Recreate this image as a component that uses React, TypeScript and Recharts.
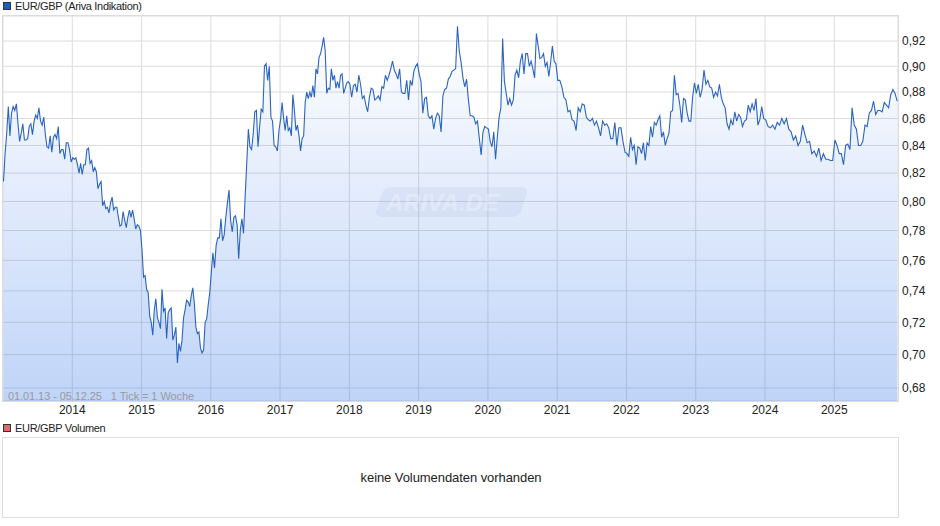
import React from 'react';
import { Area, CartesianGrid, ComposedChart, XAxis, YAxis } from 'recharts';

const FONT = '"Liberation Sans", Arial, sans-serif';

const years = [2013, 2014, 2015, 2016, 2017, 2018, 2019, 2020, 2021, 2022, 2023, 2024, 2025];
const yearTicks = [2014, 2015, 2016, 2017, 2018, 2019, 2020, 2021, 2022, 2023, 2024, 2025];
const priceTicks = [0.68, 0.7, 0.72, 0.74, 0.76, 0.78, 0.8, 0.82, 0.84, 0.86, 0.88, 0.9, 0.92];

// one list per calendar year
const v2013 = [.814, .834, .849, .869, .847, .864, .869, .866, .871, .856, .843, .849, .856, .844, .844, .845, .854, .856, .848, .858, .8625, .86, .868, .858, .855, .861, .848, .839, .838, .847, .835, .846, .848, .845, .854, .834, .837, .837, .83, .842, .842, .837, .828];
const v2014 = [.831, .83, .831, .826, .82, .827, .819, .826, .826, .837, .838, .827, .829, .821, .824, .821, .809, .812, .814, .797, .8, .795, .796, .792, .799, .803, .794, .796, .796, .789, .783, .784, .793, .787, .782, .789, .794, .789, .794, .788, .781, .784, .783, .78];
const v2015 = [.767, .749, .75, .741, .739, .724, .72, .712, .728, .735, .723, .72, .716, .741, .727, .729, .71, .726, .728, .729, .709, .712, .717, .695, .707, .702, .709, .723, .728, .734, .733, .73, .737, .742, .732, .717, .713, .714, .704, .701, .703, .72, .722, .731, .739];
const v2016 = [.752, .765, .755, .77, .775, .775, .788, .773, .777, .789, .799, .808, .787, .779, .789, .79, .784, .761, .78, .788, .778, .803, .827, .852, .839, .837, .848, .865, .866, .839, .854, .867, .865, .9, .902, .889, .9, .861, .858, .84, .839, .836, .851];
const v2017 = [.859, .872, .86, .851, .862, .851, .853, .847, .878, .866, .851, .855, .847, .836, .845, .847, .872, .88, .875, .88, .876, .885, .876, .898, .894, .907, .91, .916, .923, .912, .879, .883, .882, .898, .889, .893, .883, .888, .883, .893, .894, .879, .883, .887, .888];
const v2018 = [.886, .876, .885, .886, .88, .893, .886, .875, .877, .87, .865, .876, .883, .882, .874, .875, .877, .874, .884, .883, .893, .889, .893, .898, .904, .897, .894, .89, .898, .88, .879, .879, .889, .874, .889, .885, .896, .9, .902];
const v2019 = [.894, .888, .864, .875, .876, .862, .86, .862, .852, .86, .864, .862, .85, .877, .882, .883, .89, .892, .896, .897, .898, .932, .912, .903, .891, .884, .89, .874, .862, .862, .861, .856, .858, .845, .833, .85, .854, .853];
const v2020 = [.852, .843, .839, .85, .83, .846, .861, .868, .922, .888, .879, .87, .875, .87, .874, .893, .897, .891, .904, .91, .894, .91, .91, .9, .904, .898, .891, .926, .916, .906, .907, .91, .9, .903, .892, .903, .916, .904, .902];
const v2021 = [.889, .889, .884, .876, .874, .865, .866, .859, .858, .851, .868, .865, .871, .87, .861, .859, .858, .86, .855, .858, .853, .847, .858, .855, .856, .853, .845, .845, .857, .84, .853, .853, .843, .835];
const v2022 = [.834, .832, .846, .837, .84, .826, .839, .838, .834, .842, .829, .842, .84, .854, .846, .857, .855, .859, .862, .846, .85, .84, .845, .849, .865, .866, .893, .878, .879, .87, .857, .875, .874, .864, .858, .858, .876, .887];
const v2023 = [.879, .886, .876, .882, .897, .886, .889, .884, .883, .876, .88, .877, .886, .876, .871, .868, .856, .852, .859, .855, .865, .858, .863, .861, .854, .858, .859, .87, .865, .871, .866, .875, .855, .859, .869, .86];
const v2024 = [.859, .854, .853, .855, .852, .857, .855, .86, .856, .86, .852, .85, .844, .847, .84, .843, .855, .848, .842, .843, .834, .836, .832, .838, .829, .834, .83, .83, .829, .829];
const v2025 = [.844, .84, .834, .834, .826, .84, .841, .837, .868, .855, .852, .84, .84, .843, .855, .854, .864, .866, .873, .863, .866, .866, .865, .872, .87, .868, .878, .882, .879, .873];

const yearValues = [v2013, v2014, v2015, v2016, v2017, v2018, v2019, v2020, v2021, v2022, v2023, v2024, v2025];

const LAST_YEAR_SHARE = 0.93; // data stops at 05.12.25

const rows = years.flatMap((year, y) => {
  const list = yearValues[y];
  const share = year === 2025 ? LAST_YEAR_SHARE : 1;
  return list.map((v, i) => ({ t: year + ((i + 0.3) / list.length) * share, v }));
});

const plain: React.CSSProperties = { position: 'absolute', fontFamily: FONT, fontSize: 11, lineHeight: '14px', whiteSpace: 'pre' };

function Marker({ top, color }: { top: number; color: string }) {
  return <div style={{ position: 'absolute', left: 3, top, width: 6, height: 6, background: color, border: '1px solid #333' }} />;
}

export default function App() {
  return (
    <div style={{ position: 'fixed', left: 0, top: 0, width: 940, height: 526, background: '#fff', overflow: 'hidden' }}>
      <Marker top={2} color="#1c5dbd" />
      <div style={{ ...plain, left: 15, top: -1, color: '#222', letterSpacing: -0.32 }}>EUR/GBP (Ariva Indikation)</div>

      <div style={{ position: 'absolute', left: 0, top: 0 }}>
        <ComposedChart width={940} height={440} data={rows} margin={{ top: 16, right: 0, bottom: 0, left: 3 }}>
          <defs>
            <linearGradient id="areaFill" x1="0" y1="0" x2="0" y2="1">
              <stop offset="0%" stopColor="#2a6fe8" stopOpacity={0} />
              <stop offset="100%" stopColor="#2a6fe8" stopOpacity={0.3} />
            </linearGradient>
          </defs>
          <CartesianGrid stroke="#dcdcdc" strokeWidth={1} />
          <XAxis
            dataKey="t"
            type="number"
            domain={[2013, 2025.92]}
            ticks={yearTicks}
            height={39}
            axisLine={false}
            tickLine={false}
            tickMargin={-2}
            interval={0}
            tick={{ fontFamily: FONT, fontSize: 12, fill: '#222' }}
          />
          <YAxis
            orientation="right"
            type="number"
            scale="log"
            domain={[0.6723, 0.9403]}
            allowDataOverflow
            ticks={priceTicks}
            width={42}
            axisLine={false}
            tickLine={false}
            tickMargin={-2}
            interval={0}
            tickFormatter={(v: number) => v.toFixed(2).replace('.', ',')}
            tick={{ fontFamily: FONT, fontSize: 12, fill: '#222', textAnchor: 'start' }}
          />
          <Area
            type="linear"
            dataKey="v"
            stroke="#2a64c0"
            strokeWidth={1.1}
            fill="url(#areaFill)"
            fillOpacity={1}
            dot={false}
            activeDot={false}
            isAnimationActive={false}
          />
        </ComposedChart>
      </div>

      <div style={{ position: 'absolute', left: 2, top: 15, width: 895, height: 385, border: '1px solid #dcdcdc' }} />

      <div style={{ position: 'absolute', left: 379, top: 187, width: 145, height: 30, background: 'rgba(90,120,180,0.07)', borderRadius: 7, transform: 'skewX(-18deg)' }} />
      <div style={{ ...plain, left: 386, top: 189, fontSize: 24, lineHeight: '28px', fontWeight: 700, fontStyle: 'italic', color: 'rgba(255,255,255,0.3)' }}>ARIVA.DE</div>

      <div style={{ ...plain, left: 8, top: 389, color: '#9a9a9a', letterSpacing: -0.08 }}>01.01.13 - 05.12.25   1 Tick = 1 Woche</div>

      <Marker top={424} color="#dd6b6b" />
      <div style={{ ...plain, left: 15, top: 421, color: '#222', letterSpacing: -0.32 }}>EUR/GBP Volumen</div>

      <div style={{ position: 'absolute', left: 2, top: 437, width: 895, height: 79, border: '1px solid #dcdcdc' }} />
      <div style={{ ...plain, left: 2, top: 470, width: 898, fontSize: 13, lineHeight: '15px', letterSpacing: -0.07, textAlign: 'center', color: '#222' }}>keine Volumendaten vorhanden</div>
    </div>
  );
}
